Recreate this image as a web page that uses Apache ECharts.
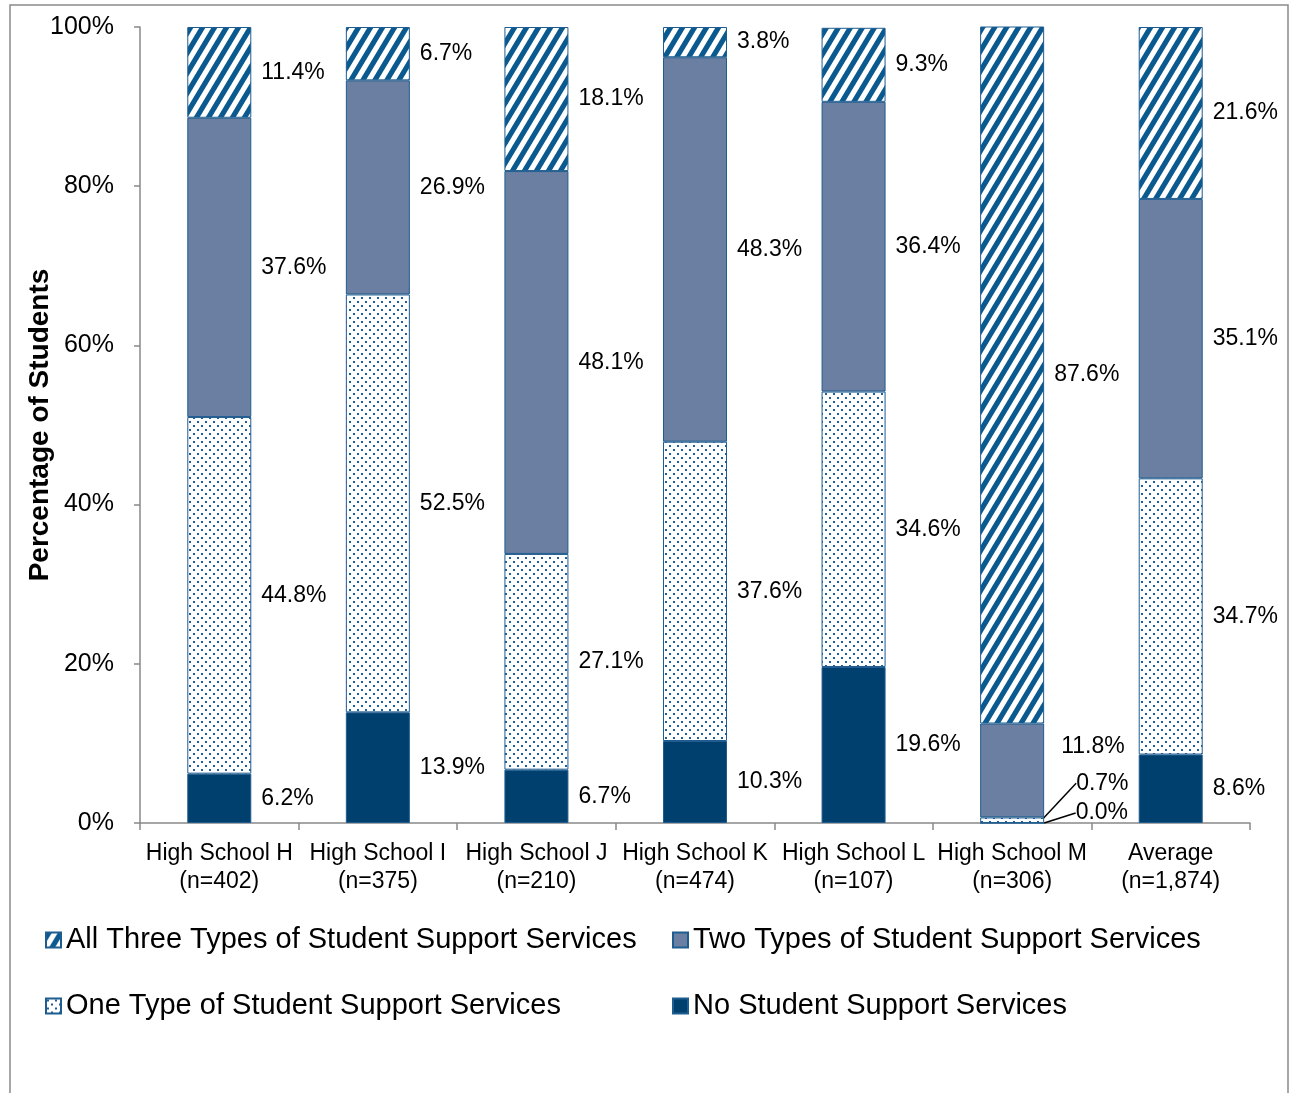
<!DOCTYPE html>
<html>
<head>
<meta charset="utf-8">
<script src="https://cdn.jsdelivr.net/npm/echarts@6/dist/echarts.min.js"></script>
<style>
html,body{margin:0;padding:0;background:#fff;}
#chart{width:1291px;height:1093px;}
</style>
</head>
<body>
<div id="chart"></div>
<script>
// ---- data ----
const categories = ['High School H', 'High School I', 'High School J', 'High School K', 'High School L', 'High School M', 'Average'];
const sampleSizes = ['n=402', 'n=375', 'n=210', 'n=474', 'n=107', 'n=306', 'n=1,874'];
const seriesNames = ['No Student Support Services', 'One Type of Student Support Services', 'Two Types of Student Support Services', 'All Three Types of Student Support Services'];
const noServices = [6.2, 13.9, 6.7, 10.3, 19.6, 0.0, 8.6];
const oneType = [44.8, 52.5, 27.1, 37.6, 34.6, 0.7, 34.7];
const twoTypes = [37.6, 26.9, 48.1, 48.3, 36.4, 11.8, 35.1];
const allThree = [11.4, 6.7, 18.1, 3.8, 9.3, 87.6, 21.6];
const yMin = 0, yMax = 100, yInterval = 20;

// ---- patterns ----
function stripePattern() {
  const w = 12, h = 20, t = 6;
  const c = document.createElement('canvas');
  c.width = w; c.height = h;
  const g = c.getContext('2d');
  g.fillStyle = '#ffffff';
  g.fillRect(0, 0, w, h);
  g.fillStyle = '#0b5a8f';
  for (let k = -1; k <= 1; k++) {
    const o = k * w;
    g.beginPath();
    g.moveTo(o, h);
    g.lineTo(o + t, h);
    g.lineTo(o + t + w, 0);
    g.lineTo(o + w, 0);
    g.closePath();
    g.fill();
  }
  return c;
}
function dotPattern() {
  const c = document.createElement('canvas');
  c.width = 8; c.height = 8;
  const g = c.getContext('2d');
  g.fillStyle = '#ffffff';
  g.fillRect(0, 0, 8, 8);
  g.fillStyle = '#1f5f99';
  g.fillRect(1, 1, 2, 2);
  g.fillRect(5, 5, 2, 2);
  return c;
}
const stripeFill = { image: stripePattern(), repeat: 'repeat' };
const dotFill = { image: dotPattern(), repeat: 'repeat' };

const FONT = 'Liberation Sans, Arial, sans-serif';
const borderBlue = '#1f5c8f';

// label offsets for the crowded High School M bar (category index 5)
const crowdedIndex = 5;
function mkData(arr, withLine) {
  return arr.map((v, i) => (i === crowdedIndex && withLine)
    ? { value: v, labelLine: { show: true, lineStyle: { color: '#000', width: 1.5 } } }
    : v);
}
function mkSeries(name, arr, color, layoutShift, withLine) {
  return {
    name: name,
    type: 'bar',
    stack: 'total',
    barWidth: 64,
    data: mkData(arr, withLine),
    itemStyle: { color: color, borderColor: borderBlue, borderWidth: 1 },
    label: {
      show: true,
      position: 'right',
      distance: 10,
      color: '#000',
      fontFamily: FONT,
      fontSize: 23,
      formatter: p => Number(p.value).toFixed(1) + '%'
    },
    labelLayout: function (p) {
      if (p.dataIndex === crowdedIndex && layoutShift) return { dx: layoutShift[0], dy: layoutShift[1] };
      return {};
    }
  };
}

const chart = echarts.init(document.getElementById('chart'), null, { renderer: 'canvas' });
const legendText = { fontFamily: FONT, fontSize: 29, color: '#000', width: 575, lineHeight: 32 };
const legendCommon = {
  left: 40, orient: 'horizontal',
  itemWidth: 15, itemHeight: 15, itemGap: 31,
  icon: 'rect',
  textStyle: legendText,
  selectedMode: false
};
chart.setOption({
  animation: false,
  backgroundColor: '#ffffff',
  graphic: [{
    type: 'rect',
    shape: { x: 10, y: 5, width: 1278, height: 1120 },
    style: { fill: 'none', stroke: '#8a8a8a', lineWidth: 1.5 },
    silent: true, z: -1
  }],
  grid: { left: 140, right: 41, top: 27, bottom: 270 },
  legend: [
    Object.assign({ data: [seriesNames[3], seriesNames[2]], top: 919 }, legendCommon),
    Object.assign({ data: [seriesNames[1], seriesNames[0]], top: 985 }, legendCommon)
  ],
  xAxis: {
    type: 'category',
    data: categories,
    axisLine: { lineStyle: { color: '#898989', width: 1.5 } },
    axisTick: { show: true, alignWithLabel: false, length: 7, lineStyle: { color: '#898989', width: 1.5 } },
    axisLabel: {
      interval: 0,
      color: '#000',
      fontFamily: FONT,
      fontSize: 23,
      lineHeight: 28,
      margin: 17,
      formatter: (v, i) => v + '\n(' + sampleSizes[i] + ')'
    }
  },
  yAxis: {
    type: 'value',
    min: yMin, max: yMax, interval: yInterval,
    name: 'Percentage of Students',
    nameLocation: 'middle',
    nameGap: 86,
    nameMoveOverlap: false,
    nameTextStyle: { fontFamily: FONT, fontSize: 28, fontWeight: 'bold', color: '#000' },
    axisLine: { show: true, lineStyle: { color: '#898989', width: 1.5 } },
    axisTick: { show: true, length: 6, lineStyle: { color: '#898989', width: 1.5 } },
    splitLine: { show: false },
    axisLabel: {
      color: '#000', fontFamily: FONT, fontSize: 25, margin: 26,
      formatter: '{value}%'
    }
  },
  series: [
    mkSeries(seriesNames[0], noServices, '#00406e', [21, -10], true),
    mkSeries(seriesNames[1], oneType, dotFill, [22, -37], true),
    mkSeries(seriesNames[2], twoTypes, '#6a7fa1', [7, -24], false),
    mkSeries(seriesNames[3], allThree, stripeFill, null, false)
  ]
});
</script>
</body>
</html>
